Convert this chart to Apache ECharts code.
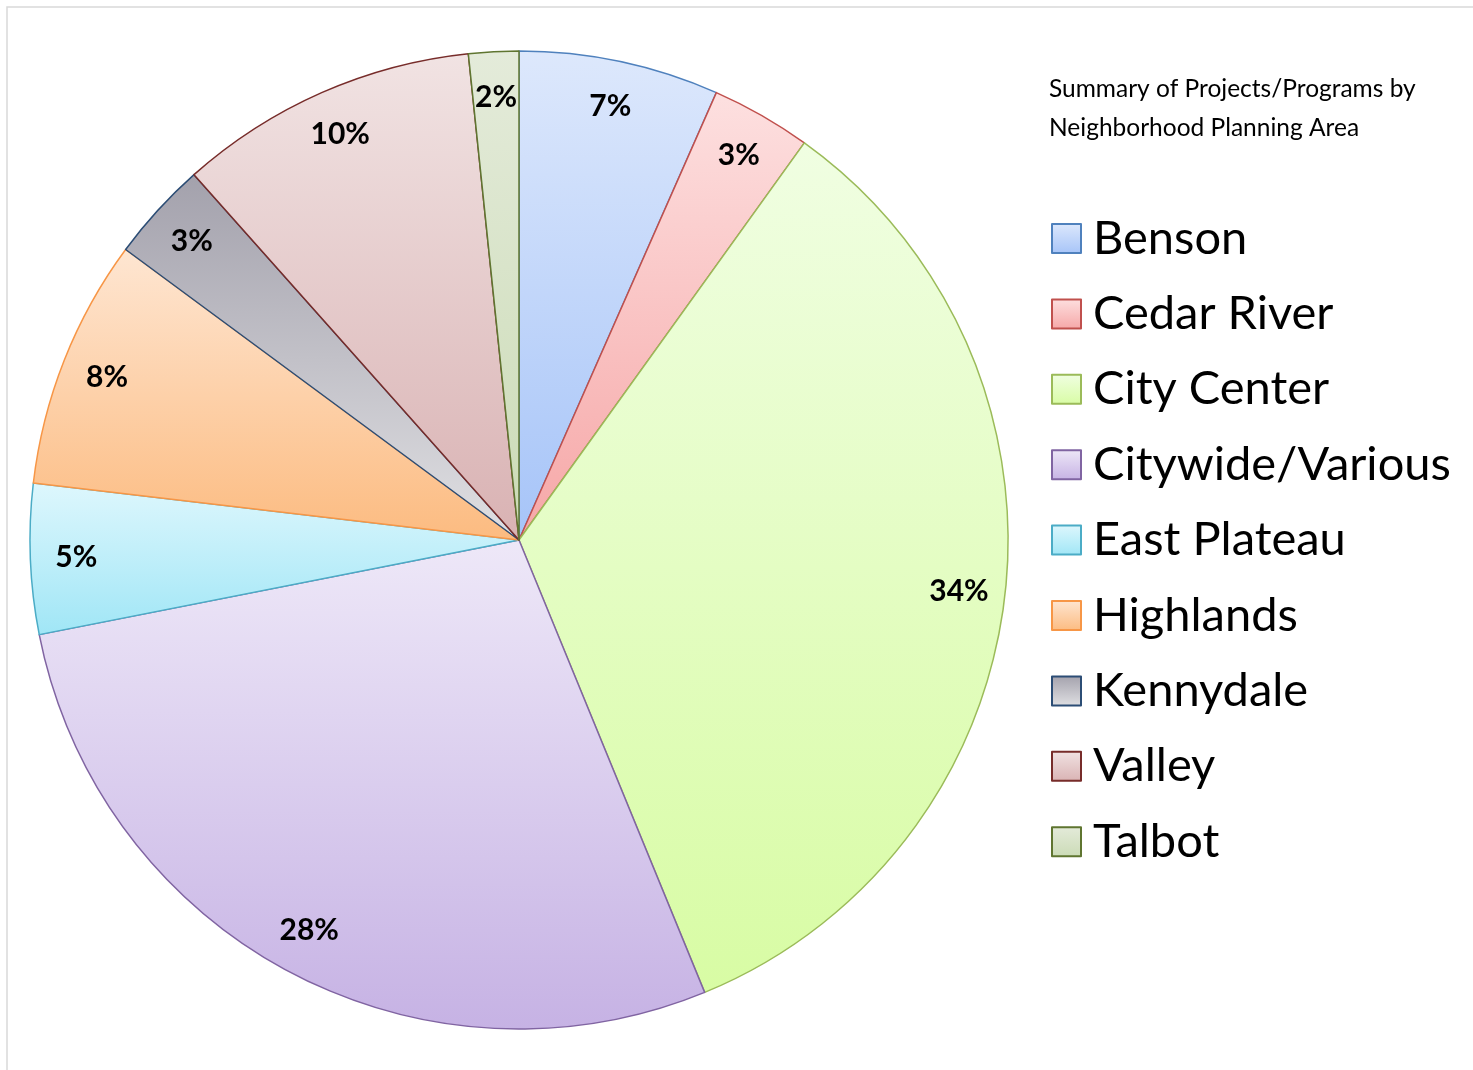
<!DOCTYPE html>
<html>
<head>
<meta charset="utf-8">
<title>Summary of Projects/Programs by Neighborhood Planning Area</title>
<script src="https://cdn.jsdelivr.net/npm/echarts@6/dist/echarts.min.js"></script>
<style>
  html, body { margin: 0; padding: 0; background: #fff; }
  #main { width: 1473px; height: 1070px; }
</style>
</head>
<body>
<div id="main"></div>
<script>
  // project counts per neighborhood planning area
  var areas = ['Benson', 'Cedar River', 'City Center', 'Citywide/Various', 'East Plateau',
               'Highlands', 'Kennydale', 'Valley', 'Talbot'];
  var counts = [8, 4, 41, 34, 6, 10, 4, 12, 2];

  // fill gradient (top -> bottom) and edge colour for every slice
  var topColors    = ['#dde8fc', '#fde0e0', '#f0fee2', '#eee8f8', '#def7fd', '#fee6d2', '#a3a1ac', '#f1e3e3', '#e4ebda'];
  var bottomColors = ['#a6c4f8', '#f6a7a7', '#d8fca4', '#c6b2e4', '#a0e6f6', '#fcbb80', '#e0e0e3', '#d9b2b3', '#cbdbb6'];
  var edgeColors   = ['#4f81bd', '#c0504d', '#9bbb59', '#8064a2', '#4bacc6', '#f79646', '#2c4d75', '#772c2a', '#5f7530'];

  var font = 'Lato, "Open Sans", sans-serif';

  var chart = echarts.init(document.getElementById('main'));

  var pieData = areas.map(function (name, i) {
    return {
      name: name,
      value: counts[i],
      itemStyle: {
        color: new echarts.graphic.LinearGradient(0, 0, 0, 1, [
          { offset: 0, color: topColors[i] },
          { offset: 1, color: bottomColors[i] }
        ]),
        borderColor: edgeColors[i],
        borderWidth: 1.5
      }
    };
  });

  // same values again on a transparent ring, only there to put labels near the rim
  var labelData = areas.map(function (name, i) {
    return { name: name, value: counts[i] };
  });

  var option = {
    animation: false,
    backgroundColor: '#fff',
    title: {
      text: 'Summary of Projects/Programs by\nNeighborhood Planning Area',
      left: 1049,
      top: 70,
      padding: 0,
      textStyle: {
        fontFamily: font,
        fontSize: 24.5,
        fontWeight: 'normal',
        color: '#000',
        lineHeight: 39
      }
    },
    legend: {
      orient: 'vertical',
      left: 1051,
      top: 215,
      padding: 0,
      icon: 'rect',
      itemWidth: 29,
      itemHeight: 29,
      itemGap: 28.4,
      data: areas,
      selectedMode: false,
      textStyle: {
        fontFamily: font,
        fontSize: 47,
        color: '#000',
        lineHeight: 46,
        padding: [0, 0, 0, 7]
      }
    },
    graphic: [{
      type: 'rect',
      shape: { x: 7, y: 7, width: 1500, height: 1100 },
      style: { fill: 'none', stroke: '#d9d9d9', lineWidth: 1.5 },
      silent: true
    }],
    series: [
      {
        type: 'pie',
        center: [519, 540],
        radius: [0, 489],
        startAngle: 90,
        clockwise: true,
        avoidLabelOverlap: false,
        label: { show: false },
        labelLine: { show: false },
        emphasis: { disabled: true },
        data: pieData
      },
      {
        type: 'pie',
        center: [519, 540],
        radius: [391, 489],
        startAngle: 90,
        clockwise: true,
        silent: true,
        avoidLabelOverlap: false,
        itemStyle: { color: 'rgba(0,0,0,0)', borderWidth: 0 },
        label: {
          show: true,
          position: 'inside',
          fontFamily: font,
          fontSize: 30,
          fontWeight: 'bold',
          color: '#000',
          formatter: function (p) {
            return Math.round(p.percent) + '%';
          }
        },
        labelLine: { show: false },
        emphasis: { disabled: true },
        data: labelData
      }
    ]
  };

  chart.setOption(option);
</script>
</body>
</html>
